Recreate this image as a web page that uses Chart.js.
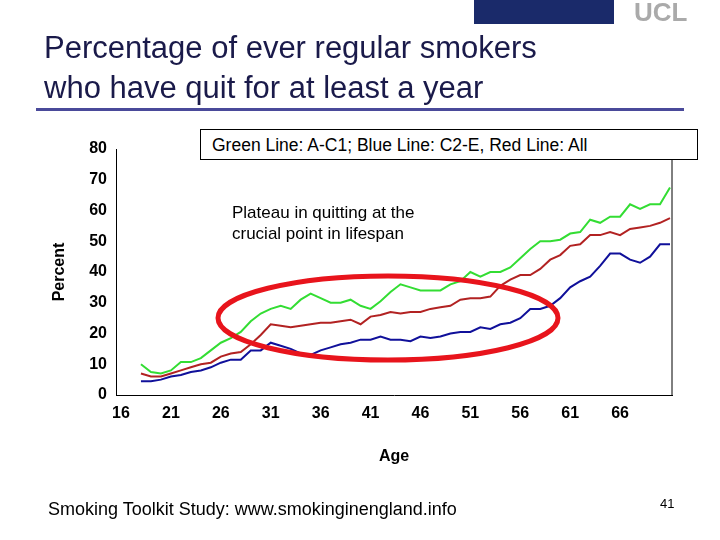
<!DOCTYPE html>
<html><head><meta charset="utf-8">
<script src="https://cdn.jsdelivr.net/npm/chart.js@4"></script>
<style>
body{margin:0;width:720px;height:540px;position:relative;background:#fff;font-family:"Liberation Sans",Arial,sans-serif;overflow:hidden}
canvas{position:absolute;left:0;top:0}
.t{position:absolute;color:#1a1a4a}
</style></head><body>
<canvas id="c" width="720" height="540"></canvas>
<div class="t" style="left:44px;top:28px;font-size:31px;line-height:40px;white-space:nowrap">Percentage of ever regular smokers<br>who have quit for at least a year</div>
<div style="position:absolute;left:36px;top:108px;width:648px;height:3px;background:#4a4a9a"></div>
<div style="position:absolute;left:200px;top:129px;height:31px;border:1px solid #000;background:#fff;font-size:17.5px;line-height:30px;padding-left:11px;box-sizing:border-box;width:498px;white-space:nowrap">Green Line: A-C1; Blue Line: C2-E, Red Line: All</div>
<div style="position:absolute;left:232px;top:202px;font-size:17px;line-height:21px;white-space:nowrap">Plateau in quitting at the<br>crucial point in lifespan</div>
<div style="position:absolute;left:48px;top:499px;font-size:18px;white-space:nowrap">Smoking Toolkit Study: www.smokinginengland.info</div>
<div style="position:absolute;left:660px;top:496px;font-size:13px">41</div>
<div style="position:absolute;left:474px;top:0;width:140px;height:24px;background:#1a2a6a"></div>
<div style="position:absolute;left:634px;top:0;width:86px;height:24px;color:#aaa;font-size:26px;font-weight:bold;line-height:24px">UCL</div>
<script>
const ages = [];
for (let a = 18; a <= 71; a++) ages.push(a);
const green = [10,7.5,7,8,10.7,10.7,12,14.5,17,18.5,20.5,24,26.5,28,29,28,31,33,31.5,30,30,31,29,28,30.5,33.5,36,35,34,34,34,36,37,40,38.5,40,40,41.5,44.5,47.5,50,50,50.5,52.5,53,57,56,58,58,62,60.5,62,62,67.5];
const red = [7,6,6,7,8,9,10,10.5,12.5,13.5,14,16.5,19.5,23,22.5,22,22.5,23,23.5,23.5,24,24.5,23,25.5,26,27,26.5,27,27,28,28.5,29,31,31.5,31.5,32,35.5,37.5,39,39,41,44,45.5,48.5,49,52,52,53,52,54,54.5,55,56,57.5];
const blue = [4.5,4.5,5,6,6.5,7.5,8,9,10.5,11.5,11.5,14.5,14.5,17,16,15,13.5,13,14.5,15.5,16.5,17,18,18,19,18,18,17.5,19,18.5,19,20,20.5,20.5,22,21.5,23,23.5,25,28,28,29,31.5,35,37,38.5,42,46,46,44,43,45,49,49];
const yTicks = [0,10,20,30,40,50,60,70,80];
const xTicks = [16,21,26,31,36,41,46,51,56,61,66];

const pts = arr => arr.map((v, i) => ({x: ages[i], y: v}));
const deco = {
  id: 'deco',
  afterDatasetsDraw(ch) {
    const g = ch.ctx, a = ch.chartArea;
    g.save();
    g.strokeStyle = '#000'; g.lineWidth = 1;
    g.beginPath(); g.moveTo(a.right, 129); g.lineTo(a.right, a.bottom); g.stroke();
    g.strokeStyle = '#e8141c'; g.lineWidth = 5;
    g.beginPath(); g.ellipse(388, 318, 170, 42, 0, 0, Math.PI * 2); g.stroke();
    g.restore();
  }
};
const tickFont = {family: '"Liberation Sans", Arial', size: 16, weight: 'bold'};
new Chart(document.getElementById('c'), {
  type: 'line',
  data: {datasets: [
    {data: pts(green), borderColor: '#33dd33'},
    {data: pts(red), borderColor: '#b22222'},
    {data: pts(blue), borderColor: '#10109a'}
  ]},
  options: {
    responsive: false, animation: false,
    elements: {point: {radius: 0}, line: {borderWidth: 2, tension: 0}},
    layout: {padding: {left: 50, top: 149, right: 48, bottom: 70}},
    plugins: {legend: {display: false}, tooltip: {enabled: false}},
    scales: {
      x: {type: 'linear', min: 15.5, max: 71.2,
        afterBuildTicks: s => { s.ticks = xTicks.map(v => ({value: v})); },
        afterFit: s => { s.height = 75; },
        grid: {display: false, drawTicks: true, tickLength: 6},
        border: {color: '#000'},
        ticks: {color: '#000', font: tickFont, maxRotation: 0, autoSkip: false},
        title: {display: true, text: 'Age', color: '#000', font: tickFont, padding: {top: 14}}},
      y: {min: 0, max: 80,
        afterBuildTicks: s => { s.ticks = yTicks.map(v => ({value: v})); },
        afterFit: s => { s.width = 66; },
        grid: {display: false, tickLength: 6},
        border: {color: '#000'},
        ticks: {color: '#000', font: tickFont},
        title: {display: true, text: 'Percent', color: '#000', font: tickFont, padding: 0}}
    }
  },
  plugins: [deco]
});
</script>
</body></html>
